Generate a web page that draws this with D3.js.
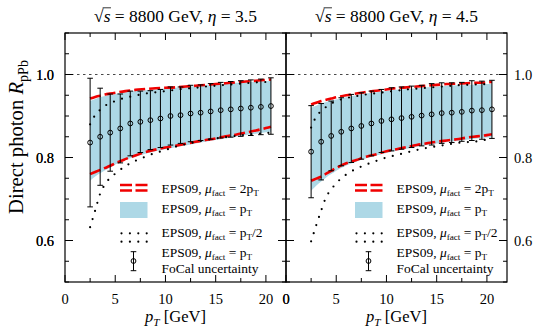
<!DOCTYPE html>
<html><head><meta charset="utf-8">
<script src="https://cdn.jsdelivr.net/npm/d3@7"></script>
<style>body{margin:0;background:#fff}svg{display:block}text{font-family:"Liberation Serif","Times New Roman",Times,serif;fill:#000}</style>
</head><body><svg id="c" width="536" height="327"></svg>
<script>
// ---- data ----
const ptPoints = [2.5,3.5,4.5,5.5,6.5,7.5,8.5,9.5,10.5,11.5,12.5,13.5,14.5,15.5,16.5,17.5,18.5,19.5,20.5];
const ptCurve = [2.5,3,3.5,4,4.5,5,6,7,8,9,10,11,12,13,14,15,16,17,18,19,20,20.5];

// eta = 3.5
const focalL = [0.836,0.850,0.860,0.870,0.882,0.886,0.890,0.894,0.900,0.902,0.906,0.908,0.911,0.914,0.916,0.918,0.920,0.922,0.924];
const focalErrL = [0.155,0.117,0.093,0.083,0.078,0.074,0.071,0.070,0.070,0.068,0.068,0.067,0.067,0.067,0.067,0.067,0.067,0.067,0.068];
const red2UpL = [0.942,0.946,0.949,0.952,0.954,0.956,0.960,0.963,0.965,0.967,0.968,0.969,0.971,0.973,0.975,0.977,0.979,0.981,0.983,0.985,0.987,0.988];
const red2LoL = [0.760,0.765,0.770,0.775,0.780,0.786,0.796,0.805,0.813,0.819,0.824,0.828,0.833,0.838,0.842,0.846,0.851,0.855,0.860,0.865,0.871,0.874];
const bandUpL = [0.936,0.941,0.945,0.948,0.951,0.953,0.957,0.960,0.962,0.964,0.966,0.968,0.970,0.972,0.974,0.976,0.978,0.980,0.981,0.983,0.984,0.985];
const bandLoL = [0.744,0.754,0.762,0.769,0.776,0.783,0.794,0.802,0.809,0.815,0.820,0.825,0.829,0.834,0.838,0.842,0.846,0.850,0.854,0.857,0.861,0.862];
const halfUpL = [0.880,0.902,0.915,0.925,0.931,0.936,0.944,0.949,0.954,0.957,0.960,0.963,0.966,0.968,0.971,0.973,0.975,0.977,0.979,0.981,0.982,0.983];
const halfLoL = [0.632,0.672,0.713,0.736,0.751,0.761,0.779,0.792,0.802,0.811,0.818,0.826,0.832,0.837,0.842,0.846,0.849,0.852,0.855,0.857,0.859,0.860];

// eta = 4.5
const focalR = [0.814,0.838,0.852,0.862,0.870,0.876,0.882,0.888,0.892,0.895,0.898,0.901,0.904,0.907,0.908,0.910,0.913,0.914,0.916];
const focalErrR = [0.111,0.092,0.084,0.082,0.082,0.080,0.078,0.076,0.076,0.075,0.074,0.073,0.074,0.073,0.072,0.071,0.072,0.070,0.070];
const red2UpR = [0.928,0.932,0.936,0.939,0.942,0.945,0.950,0.954,0.958,0.961,0.964,0.967,0.969,0.971,0.973,0.975,0.977,0.978,0.979,0.980,0.981,0.982];
const red2LoR = [0.744,0.749,0.754,0.761,0.768,0.775,0.786,0.794,0.802,0.808,0.815,0.820,0.825,0.830,0.834,0.838,0.841,0.844,0.848,0.851,0.854,0.856];
const bandUpR = [0.920,0.925,0.930,0.934,0.937,0.940,0.945,0.950,0.954,0.957,0.960,0.963,0.965,0.967,0.969,0.971,0.973,0.974,0.975,0.976,0.977,0.978];
const bandLoR = [0.720,0.732,0.742,0.752,0.760,0.768,0.781,0.790,0.798,0.805,0.811,0.816,0.821,0.826,0.830,0.834,0.837,0.840,0.843,0.846,0.848,0.849];
const halfUpR = [0.872,0.898,0.912,0.922,0.930,0.936,0.943,0.948,0.952,0.955,0.958,0.961,0.964,0.966,0.968,0.970,0.972,0.974,0.975,0.976,0.977,0.978];
const halfLoR = [0.598,0.636,0.672,0.705,0.723,0.738,0.759,0.773,0.783,0.792,0.800,0.806,0.812,0.818,0.823,0.827,0.831,0.835,0.837,0.839,0.843,0.844];

const xTicks = [0,5,10,15,20];
const yTicks = [0.6,0.8,1.0];
const etaLabels = ["3.5","4.5"];

// ---- drawing ----
const svg = d3.select("#c");
const yTop = 33, yBot = 282;
const y = d3.scaleLinear().domain([0.5,1.1]).range([yBot, yTop]);
const panels = [
  {x0:65, x1:286, eta:etaLabels[0], pts:focalL, err:focalErrL, r2u:red2UpL, r2l:red2LoL, bu:bandUpL, bl:bandLoL, hu:halfUpL, hl:halfLoL, legX:120, txtX:161.5},
  {x0:286, x1:507, eta:etaLabels[1], pts:focalR, err:focalErrR, r2u:red2UpR, r2l:red2LoR, bu:bandUpR, bl:bandLoR, hu:halfUpR, hl:halfLoR, legX:355, txtX:396.5}
];
const RED = "#f00000", BLUE = "#add8e6";

function rich(sel, parts){
  parts.forEach((p,i)=>{
    const t = sel.append("tspan").text(p.t);
    if(p.i) t.style("font-style","italic");
    if(p.sub){ t.attr("font-size","0.68em").attr("dy","0.33em"); }
    else if(i>0 && parts[i-1].sub){ t.attr("dy","-0.224em"); }
  });
  return sel;
}
function fit(sel, target){
  const fs = parseFloat(sel.attr("font-size"));
  const len = sel.node().getComputedTextLength();
  const nf = fs*target/len;
  sel.attr("font-size", nf+"px");
  return nf;
}

const probe = svg.append("text").attr("font-size","13px").text("FoCal uncertainty");
const legFs = Math.max(12, Math.min(14, fit(probe, 97)));
probe.remove();

panels.forEach((P, pi)=>{
  const x = d3.scaleLinear().domain([0,22]).range([P.x0, P.x1]);
  const g = svg.append("g");
  const data = ptCurve.map((v,i)=>({x:v, bu:P.bu[i], bl:P.bl[i], r2u:P.r2u[i], r2l:P.r2l[i], hu:P.hu[i], hl:P.hl[i]}));
  g.append("path").datum(data)
    .attr("d", d3.area().x(d=>x(d.x)).y0(d=>y(d.bl)).y1(d=>y(d.bu)).curve(d3.curveMonotoneX))
    .attr("fill", BLUE);
  g.append("line").attr("x1",P.x0).attr("x2",P.x1).attr("y1",y(1)).attr("y2",y(1))
    .attr("stroke","#333").attr("stroke-width",0.9).attr("stroke-dasharray","2.5 3.5");
  ["r2u","r2l"].forEach(k=>{
    g.append("path").datum(data)
      .attr("d", d3.line().x(d=>x(d.x)).y(d=>y(d[k])).curve(d3.curveMonotoneX))
      .attr("fill","none").attr("stroke",RED).attr("stroke-width",2.6).attr("stroke-dasharray","11 4");
  });
  ["hu","hl"].forEach(k=>{
    g.append("path").datum(data)
      .attr("d", d3.line().x(d=>x(d.x)).y(d=>y(d[k])).curve(d3.curveMonotoneX))
      .attr("fill","none").attr("stroke","#000").attr("stroke-width",2.2)
      .attr("stroke-linecap","round").attr("stroke-dasharray","0 8.5");
  });
  const pts = ptPoints.map((v,i)=>({x:v, y:P.pts[i], e:P.err[i]}));
  const eg = g.append("g").attr("stroke","#000").attr("stroke-width",1).attr("fill","none");
  pts.forEach(d=>{
    const cx = x(d.x), yt = y(d.y+d.e), yb = y(d.y-d.e);
    eg.append("line").attr("x1",cx).attr("x2",cx).attr("y1",yt).attr("y2",yb);
    eg.append("line").attr("x1",cx-2.8).attr("x2",cx+2.8).attr("y1",yt).attr("y2",yt);
    eg.append("line").attr("x1",cx-2.8).attr("x2",cx+2.8).attr("y1",yb).attr("y2",yb);
    eg.append("circle").attr("cx",cx).attr("cy",y(d.y)).attr("r",2.4);
  });
  g.append("rect").attr("x",P.x0).attr("y",yTop).attr("width",P.x1-P.x0).attr("height",yBot-yTop)
    .attr("fill","none").attr("stroke","#000").attr("stroke-width",1.2);
  const tg = g.append("g").attr("stroke","#000").attr("stroke-width",1);
  d3.range(0, 22.01, 2.5).forEach(v=>{
    const L = (v%5===0)?7:4, X = x(v);
    tg.append("line").attr("x1",X).attr("x2",X).attr("y1",yBot).attr("y2",yBot-L);
    tg.append("line").attr("x1",X).attr("x2",X).attr("y1",yTop).attr("y2",yTop+L);
  });
  d3.range(0.5, 1.1001, 0.05).forEach(v=>{
    const r10 = Math.round(v*10);
    const major = Math.abs(r10/10 - v) < 1e-6 && r10%2===0;
    const L = major?8:4, Y = y(v);
    tg.append("line").attr("x1",P.x0).attr("x2",P.x0+L).attr("y1",Y).attr("y2",Y);
    tg.append("line").attr("x1",P.x1).attr("x2",P.x1-L).attr("y1",Y).attr("y2",Y);
  });
  xTicks.forEach(v=>{
    const n = (pi===1 && v===0)?2:1;
    for(let k=0;k<n;k++)
      svg.append("text").attr("x",x(v)).attr("y",304).attr("text-anchor","middle")
        .attr("font-size","14.5px").text(v);
  });
  const xl = rich(svg.append("text").attr("x",(P.x0+P.x1)/2).attr("y",322).attr("text-anchor","middle").attr("font-size","16px"),
    [{t:"p",i:true},{t:"T",i:true,sub:true},{t:" [GeV]"}]);
  fit(xl, 61);
  const tt = svg.append("text").attr("x",(P.x0+P.x1)/2).attr("y",22).attr("text-anchor","middle").attr("font-size","16px");
  rich(tt, [{t:"√"},{t:"s",i:true},{t:" = 8800 GeV, "},{t:"η",i:true},{t:" = "+P.eta}]);
  fit(tt, 163);
  const ext = tt.node().getExtentOfChar(1);
  const ext0 = tt.node().getExtentOfChar(0);
  svg.append("line").attr("x1",ext0.x+ext0.width-1).attr("x2",ext.x+ext.width+0.5)
    .attr("y1",ext0.y+1.8).attr("y2",ext0.y+1.8).attr("stroke","#000").attr("stroke-width",0.8);

  const lx = P.legX, lw = 27.5;
  [185, 190.5].forEach(yy=>{
    svg.append("line").attr("x1",lx).attr("x2",lx+lw).attr("y1",yy).attr("y2",yy)
      .attr("stroke",RED).attr("stroke-width",2.6).attr("stroke-dasharray","12 3.5");
  });
  svg.append("rect").attr("x",lx).attr("y",202).attr("width",lw).attr("height",16).attr("fill",BLUE);
  [233.3, 241.7].forEach(yy=>{
    svg.append("line").attr("x1",lx+1.5).attr("x2",lx+lw).attr("y1",yy).attr("y2",yy)
      .attr("stroke","#000").attr("stroke-width",2.2).attr("stroke-linecap","round").attr("stroke-dasharray","0 8.4");
  });
  const ex = lx+13.5;
  const lg = svg.append("g").attr("stroke","#000").attr("stroke-width",1).attr("fill","none");
  lg.append("line").attr("x1",ex).attr("x2",ex).attr("y1",251.7).attr("y2",270.7);
  lg.append("line").attr("x1",ex-2.8).attr("x2",ex+2.8).attr("y1",251.7).attr("y2",251.7);
  lg.append("line").attr("x1",ex-2.8).attr("x2",ex+2.8).attr("y1",270.7).attr("y2",270.7);
  lg.append("circle").attr("cx",ex).attr("cy",261).attr("r",2.4);
  const legTexts = [
    {y:192.7, parts:[{t:"EPS09, "},{t:"μ",i:true},{t:"fact",sub:true},{t:" = 2p"},{t:"T",sub:true}]},
    {y:212.7, parts:[{t:"EPS09, "},{t:"μ",i:true},{t:"fact",sub:true},{t:" = p"},{t:"T",sub:true}]},
    {y:237.3, parts:[{t:"EPS09, "},{t:"μ",i:true},{t:"fact",sub:true},{t:" = p"},{t:"T",sub:true},{t:"/2"}]},
    {y:257.3, parts:[{t:"EPS09, "},{t:"μ",i:true},{t:"fact",sub:true},{t:" = p"},{t:"T",sub:true}]},
    {y:273.2, parts:[{t:"FoCal uncertainty"}]}
  ];
  legTexts.forEach(L=>{
    rich(svg.append("text").attr("x",P.txtX).attr("y",L.y).attr("font-size",legFs+"px"), L.parts);
  });
});

yTicks.forEach(v=>{
  for(let k=0;k<2;k++)
    svg.append("text").attr("x",54).attr("y",y(v)).attr("dy","0.35em").attr("text-anchor","end")
      .attr("font-size","14.5px").text(v.toFixed(1));
  svg.append("text").attr("x",514).attr("y",y(v)).attr("dy","0.35em").attr("text-anchor","start")
    .attr("font-size","14.5px").text(v.toFixed(1));
});
const yl = rich(svg.append("text").attr("transform","translate(23,137) rotate(-90)").attr("text-anchor","middle").attr("font-size","18px"),
  [{t:"Direct photon "},{t:"R",i:true},{t:"pPb",sub:true}]);
fit(yl, 154);
</script></body></html>
